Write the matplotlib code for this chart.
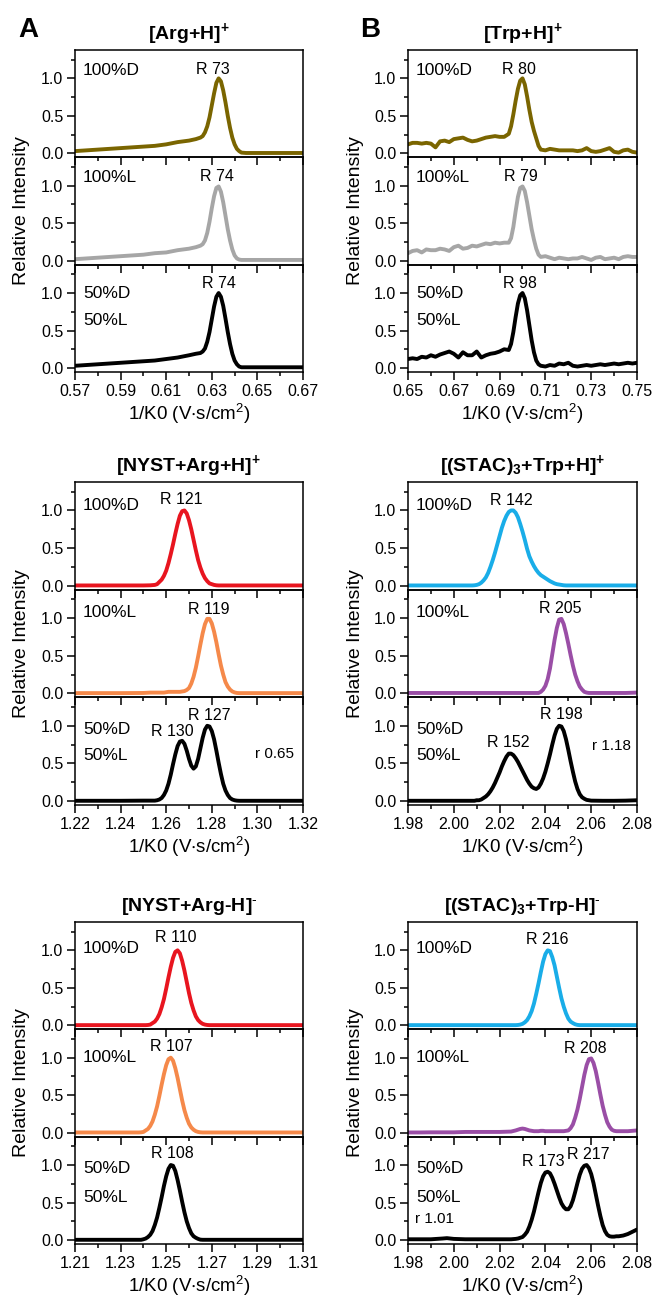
import matplotlib
matplotlib.use("Agg")
import matplotlib.pyplot as plt
from matplotlib.ticker import MultipleLocator, FixedLocator

plt.rcParams['font.family'] = ['Liberation Sans', 'DejaVu Sans']
plt.rcParams['mathtext.fontset'] = 'custom'
plt.rcParams['mathtext.rm'] = 'Liberation Sans'
plt.rcParams['mathtext.bf'] = 'Liberation Sans:bold'
plt.rcParams['mathtext.default'] = 'regular'

# ---------------- data ----------------
# [Arg+H]+
x_arg = [0.570, 0.575, 0.580, 0.585, 0.590, 0.595, 0.600, 0.605, 0.610, 0.615, 0.620, 0.623,
         0.625, 0.626, 0.627, 0.628, 0.629, 0.630, 0.631, 0.632, 0.633, 0.634, 0.635, 0.636,
         0.637, 0.638, 0.639, 0.640, 0.641, 0.642, 0.643, 0.645, 0.650, 0.655, 0.660, 0.665, 0.670]
arg_D = [0.03, 0.04, 0.05, 0.06, 0.07, 0.08, 0.09, 0.10, 0.12, 0.15, 0.17, 0.19,
         0.21, 0.23, 0.28, 0.36, 0.48, 0.64, 0.80, 0.94, 1.00, 0.96, 0.84, 0.68,
         0.50, 0.34, 0.21, 0.12, 0.06, 0.03, 0.01, 0.005, 0.005, 0.005, 0.005, 0.005, 0.005]
arg_L = [0.02, 0.03, 0.04, 0.05, 0.06, 0.07, 0.08, 0.10, 0.11, 0.14, 0.16, 0.18,
         0.20, 0.22, 0.27, 0.37, 0.52, 0.70, 0.86, 0.97, 0.99, 0.92, 0.78, 0.60,
         0.42, 0.27, 0.15, 0.07, 0.03, 0.015, 0.01, 0.01, 0.01, 0.01, 0.01, 0.01, 0.01]
arg_DL = [0.03, 0.04, 0.05, 0.06, 0.07, 0.08, 0.09, 0.10, 0.12, 0.14, 0.17, 0.19,
          0.20, 0.22, 0.26, 0.35, 0.48, 0.65, 0.82, 0.95, 1.00, 0.95, 0.83, 0.66,
          0.48, 0.32, 0.19, 0.10, 0.05, 0.02, 0.01, 0.01, 0.01, 0.01, 0.01, 0.01, 0.01]
ticks_arg = [0.57, 0.59, 0.61, 0.63, 0.65, 0.67]

# [Trp+H]+
x_trp = [0.650, 0.652, 0.654, 0.656, 0.658, 0.660, 0.662, 0.664, 0.666, 0.668, 0.670, 0.672,
         0.674, 0.676, 0.678, 0.680, 0.682, 0.684, 0.686, 0.688, 0.690, 0.692, 0.694,
         0.695, 0.696, 0.697, 0.698, 0.699, 0.700, 0.701, 0.702, 0.703, 0.704, 0.705, 0.706,
         0.707, 0.708,
         0.710, 0.712, 0.714, 0.716, 0.718, 0.720, 0.722, 0.724, 0.726, 0.728, 0.730, 0.732,
         0.734, 0.736, 0.738, 0.740, 0.742, 0.744, 0.746, 0.748, 0.750]
trp_D = [0.12, 0.14, 0.14, 0.13, 0.14, 0.13, 0.08, 0.16, 0.17, 0.15, 0.19, 0.20,
         0.21, 0.18, 0.16, 0.17, 0.19, 0.21, 0.22, 0.23, 0.22, 0.22, 0.26,
         0.36, 0.52, 0.70, 0.86, 0.97, 1.00, 0.92, 0.76, 0.58, 0.42, 0.30, 0.20, 0.10, 0.05,
         0.04, 0.06, 0.05, 0.04, 0.04, 0.04, 0.04, 0.03, 0.04, 0.07, 0.03, 0.02,
         0.03, 0.05, 0.07, 0.02, 0.01, 0.04, 0.05, 0.02, 0.01]
trp_L = [0.10, 0.13, 0.14, 0.11, 0.15, 0.14, 0.14, 0.16, 0.15, 0.13, 0.18, 0.20,
         0.16, 0.17, 0.20, 0.19, 0.21, 0.23, 0.22, 0.24, 0.23, 0.24, 0.24,
         0.30, 0.45, 0.66, 0.85, 0.97, 0.99, 0.93, 0.78, 0.60, 0.42, 0.28, 0.16, 0.08, 0.05,
         0.06, 0.04, 0.02, 0.04, 0.03, 0.02, 0.03, 0.03, 0.05, 0.03, 0.01, 0.04,
         0.05, 0.02, 0.03, 0.04, 0.02, 0.05, 0.06, 0.05, 0.05]
trp_DL = [0.12, 0.13, 0.12, 0.15, 0.14, 0.17, 0.15, 0.18, 0.20, 0.22, 0.19, 0.14,
          0.21, 0.17, 0.17, 0.22, 0.14, 0.17, 0.19, 0.20, 0.22, 0.25, 0.24,
          0.32, 0.48, 0.68, 0.86, 0.97, 1.00, 0.93, 0.77, 0.57, 0.37, 0.21, 0.10, 0.05, 0.03,
          0.02, 0.04, 0.03, 0.06, 0.05, 0.07, 0.03, 0.02, 0.03, 0.04, 0.03, 0.04,
          0.05, 0.04, 0.05, 0.06, 0.05, 0.06, 0.07, 0.06, 0.07]
ticks_trp = [0.65, 0.67, 0.69, 0.71, 0.73, 0.75]

# [NYST+Arg+H]+
x_nap = [1.220, 1.230, 1.240, 1.250, 1.253,
         1.255, 1.256, 1.257, 1.258, 1.259, 1.260, 1.261, 1.262, 1.263, 1.264, 1.265, 1.266,
         1.267, 1.268, 1.269, 1.270, 1.271, 1.272, 1.273, 1.274, 1.275, 1.276, 1.277, 1.278,
         1.279, 1.280, 1.281, 1.282, 1.283, 1.284, 1.285, 1.286, 1.287, 1.288, 1.289, 1.290,
         1.291, 1.292,
         1.295, 1.300, 1.310, 1.320]
nap_D = [0.003, 0.003, 0.003, 0.003, 0.005,
         0.01, 0.02, 0.05, 0.08, 0.13, 0.20, 0.30, 0.42, 0.55, 0.69, 0.82, 0.93,
         0.99, 1.00, 0.96, 0.87, 0.75, 0.61, 0.47, 0.34, 0.24, 0.16, 0.10, 0.06,
         0.03, 0.02, 0.01, 0.005, 0.003, 0.003, 0.003, 0.003, 0.003, 0.003, 0.003, 0.003,
         0.003, 0.003,
         0.003, 0.003, 0.003, 0.003]
nap_L = [0.003, 0.003, 0.003, 0.005, 0.01,
         0.01, 0.01, 0.01, 0.01, 0.01, 0.015, 0.02, 0.02, 0.02, 0.02, 0.02, 0.02,
         0.025, 0.03, 0.045, 0.07, 0.13, 0.22, 0.34, 0.49, 0.65, 0.80, 0.92, 0.99,
         0.99, 0.93, 0.82, 0.68, 0.52, 0.37, 0.25, 0.15, 0.09, 0.05, 0.025, 0.012,
         0.005, 0.003,
         0.003, 0.003, 0.003, 0.003]
nap_DL = [0.003, 0.003, 0.003, 0.005, 0.005,
          0.005, 0.01, 0.02, 0.04, 0.08, 0.14, 0.23, 0.35, 0.49, 0.62, 0.73, 0.79,
          0.80, 0.76, 0.67, 0.56, 0.47, 0.43, 0.46, 0.56, 0.70, 0.84, 0.95, 1.00,
          0.99, 0.93, 0.82, 0.67, 0.51, 0.36, 0.23, 0.14, 0.08, 0.04, 0.02, 0.01,
          0.005, 0.003,
          0.003, 0.003, 0.003, 0.003]
ticks_nap = [1.22, 1.24, 1.26, 1.28, 1.30, 1.32]

# [(STAC)3+Trp+H]+
x_stp = [1.980, 1.990, 2.000, 2.005,
         2.008, 2.009, 2.010, 2.011, 2.012, 2.013, 2.014, 2.015, 2.016, 2.017, 2.018, 2.019,
         2.020, 2.021, 2.022, 2.023, 2.024, 2.025, 2.026, 2.027, 2.028, 2.029, 2.030, 2.031,
         2.032, 2.033, 2.034, 2.035, 2.036, 2.037, 2.038, 2.039, 2.040, 2.041, 2.042, 2.043,
         2.044, 2.045, 2.046, 2.047, 2.048, 2.049, 2.050, 2.051, 2.052, 2.053, 2.054, 2.055,
         2.056, 2.057, 2.058, 2.059, 2.060,
         2.065, 2.070, 2.075, 2.080]
stp_D = [0.003, 0.003, 0.003, 0.003,
         0.003, 0.005, 0.01, 0.02, 0.04, 0.07, 0.11, 0.17, 0.25, 0.34, 0.44, 0.55,
         0.66, 0.77, 0.86, 0.93, 0.98, 1.00, 1.00, 0.97, 0.91, 0.82, 0.72, 0.61,
         0.49, 0.39, 0.32, 0.26, 0.21, 0.17, 0.14, 0.12, 0.10, 0.08, 0.06, 0.045,
         0.03, 0.02, 0.015, 0.01, 0.005, 0.003, 0.003, 0.003, 0.003, 0.003, 0.003, 0.003,
         0.003, 0.003, 0.003, 0.003, 0.003,
         0.003, 0.003, 0.003, 0.003]
stp_L = [0.005, 0.005, 0.005, 0.005,
         0.005, 0.005, 0.005, 0.005, 0.005, 0.005, 0.005, 0.005, 0.005, 0.005, 0.005, 0.005,
         0.005, 0.005, 0.005, 0.005, 0.005, 0.005, 0.005, 0.005, 0.005, 0.005, 0.005, 0.005,
         0.005, 0.005, 0.005, 0.005, 0.005, 0.005, 0.02, 0.05, 0.10, 0.19, 0.33, 0.52,
         0.71, 0.87, 0.98, 0.99, 0.92, 0.80, 0.66, 0.51, 0.37, 0.25, 0.16, 0.09,
         0.05, 0.02, 0.01, 0.005, 0.005,
         0.005, 0.005, 0.005, 0.01]
stp_DL = [0.003, 0.003, 0.003, 0.003,
          0.003, 0.003, 0.01, 0.01, 0.02, 0.04, 0.06, 0.09, 0.13, 0.18, 0.24, 0.31,
          0.38, 0.46, 0.53, 0.59, 0.63, 0.63, 0.61, 0.57, 0.52, 0.46, 0.40, 0.34,
          0.28, 0.23, 0.19, 0.17, 0.16, 0.18, 0.23, 0.30, 0.39, 0.50, 0.62, 0.75,
          0.87, 0.96, 1.00, 0.99, 0.93, 0.82, 0.68, 0.53, 0.39, 0.26, 0.16, 0.09,
          0.05, 0.03, 0.015, 0.01, 0.005,
          0.003, 0.003, 0.005, 0.01]
ticks_stp = [1.98, 2.00, 2.02, 2.04, 2.06, 2.08]

# [NYST+Arg-H]-
x_nam = [1.210, 1.220, 1.230, 1.235, 1.238,
         1.239, 1.240, 1.241, 1.242, 1.243, 1.244, 1.245, 1.246, 1.247, 1.248, 1.249, 1.250,
         1.251, 1.252, 1.253, 1.254, 1.255, 1.256, 1.257, 1.258, 1.259, 1.260, 1.261, 1.262,
         1.263, 1.264, 1.265, 1.266, 1.267, 1.268, 1.269, 1.270,
         1.275, 1.280, 1.290, 1.300, 1.310]
nam_D = [0.003, 0.003, 0.003, 0.003, 0.003,
         0.003, 0.003, 0.003, 0.005, 0.01, 0.03, 0.05, 0.09, 0.15, 0.24, 0.35, 0.49,
         0.64, 0.78, 0.90, 0.98, 1.00, 0.96, 0.86, 0.73, 0.58, 0.43, 0.30, 0.20,
         0.12, 0.07, 0.04, 0.02, 0.01, 0.005, 0.003, 0.003,
         0.003, 0.003, 0.003, 0.003, 0.003]
nam_L = [0.003, 0.003, 0.003, 0.003, 0.003,
         0.005, 0.01, 0.03, 0.05, 0.09, 0.15, 0.24, 0.35, 0.49, 0.64, 0.78, 0.90,
         0.98, 1.00, 0.96, 0.86, 0.73, 0.58, 0.43, 0.30, 0.20, 0.12, 0.07, 0.04,
         0.02, 0.01, 0.005, 0.003, 0.003, 0.003, 0.003, 0.003,
         0.003, 0.003, 0.003, 0.003, 0.003]
nam_DL = [0.003, 0.003, 0.003, 0.003, 0.003,
          0.003, 0.01, 0.02, 0.04, 0.07, 0.12, 0.20, 0.30, 0.43, 0.57, 0.72, 0.85,
          0.95, 1.00, 0.99, 0.92, 0.80, 0.66, 0.51, 0.37, 0.25, 0.16, 0.09, 0.05,
          0.03, 0.015, 0.005, 0.003, 0.003, 0.003, 0.003, 0.003,
          0.003, 0.003, 0.003, 0.003, 0.003]
ticks_nam = [1.21, 1.23, 1.25, 1.27, 1.29, 1.31]

# [(STAC)3+Trp-H]-
x_stm = [1.980, 1.985, 1.990, 1.995, 1.997, 2.000, 2.005, 2.010, 2.015, 2.020, 2.025, 2.027,
         2.028, 2.029, 2.030, 2.031, 2.032, 2.033, 2.034, 2.035, 2.036, 2.037, 2.038, 2.039,
         2.040, 2.041, 2.042, 2.043, 2.044, 2.045, 2.046, 2.047, 2.048, 2.049, 2.050, 2.051,
         2.052, 2.053, 2.054, 2.055, 2.056, 2.057, 2.058, 2.059, 2.060, 2.061, 2.062, 2.063,
         2.064, 2.065, 2.066, 2.067, 2.068, 2.069, 2.070, 2.071, 2.072,
         2.074, 2.076, 2.078, 2.080]
stm_D = [0.003, 0.003, 0.003, 0.003, 0.003, 0.003, 0.003, 0.003, 0.003, 0.003, 0.003, 0.003,
         0.005, 0.01, 0.02, 0.04, 0.07, 0.12, 0.19, 0.29, 0.42, 0.56, 0.71, 0.85,
         0.95, 1.00, 0.99, 0.91, 0.80, 0.65, 0.50, 0.36, 0.25, 0.16, 0.09, 0.05,
         0.03, 0.014, 0.006, 0.003, 0.003, 0.003, 0.003, 0.003, 0.003, 0.003, 0.003, 0.003,
         0.003, 0.003, 0.003, 0.003, 0.003, 0.003, 0.003, 0.003, 0.003,
         0.003, 0.003, 0.003, 0.003]
stm_L = [0.003, 0.003, 0.005, 0.005, 0.005, 0.005, 0.01, 0.01, 0.01, 0.01, 0.015, 0.03,
         0.04, 0.05, 0.055, 0.05, 0.04, 0.03, 0.025, 0.02, 0.02, 0.02, 0.025, 0.025,
         0.02, 0.02, 0.02, 0.02, 0.02, 0.02, 0.02, 0.02, 0.02, 0.025, 0.03, 0.06,
         0.11, 0.20, 0.31, 0.45, 0.61, 0.77, 0.90, 0.98, 0.99, 0.93, 0.82, 0.67,
         0.51, 0.36, 0.24, 0.14, 0.08, 0.04, 0.025, 0.02, 0.02,
         0.02, 0.02, 0.025, 0.03]
stm_DL = [0.01, 0.01, 0.01, 0.02, 0.025, 0.015, 0.01, 0.01, 0.01, 0.01, 0.01, 0.015,
          0.02, 0.03, 0.04, 0.07, 0.11, 0.18, 0.27, 0.38, 0.51, 0.64, 0.76, 0.85,
          0.90, 0.91, 0.89, 0.83, 0.75, 0.66, 0.57, 0.49, 0.44, 0.41, 0.41, 0.45,
          0.53, 0.64, 0.76, 0.87, 0.95, 0.99, 1.00, 0.96, 0.88, 0.76, 0.61, 0.46,
          0.32, 0.20, 0.12, 0.07, 0.05, 0.045, 0.045, 0.05, 0.05,
          0.06, 0.08, 0.11, 0.14]
ticks_stm = [1.98, 2.00, 2.02, 2.04, 2.06, 2.08]

# ---------------- colours ----------------
c_olive = '#7a6500'
c_gray = '#a6a6a6'
c_red = '#e8151f'
c_orange = '#f5894a'
c_cyan = '#19ade8'
c_purple = '#9a4ea6'
c_black = '#000000'

W, H = 655, 1301
fig = plt.figure(figsize=(W / 100, H / 100), dpi=100)

cols = {'A': (75, 303), 'B': (408, 637)}
rows = [(50, 372), (482, 805), (922, 1244)]


def add_ax(x0, x1, y0, y1):
    return fig.add_axes([x0 / W, 1 - y1 / H, (x1 - x0) / W, (y1 - y0) / H], facecolor='none')


def draw_group(col, row, x, xlim, xticks, curves, title, sample_y, peaks, extra=None):
    x0, x1 = cols[col]
    top, bot = rows[row]
    h = (bot - top) / 3
    axes = []
    for i, (y, color) in enumerate(curves):
        ax = add_ax(x0, x1, top + i * h, top + (i + 1) * h)
        ax.plot(x, y, color=color, lw=2.8, solid_joinstyle='round', solid_capstyle='round')
        ax.set_xlim(*xlim)
        ax.set_ylim(-0.053, 1.378)
        ax.xaxis.set_major_locator(FixedLocator(xticks))
        ax.xaxis.set_minor_locator(MultipleLocator(0.01))
        ax.yaxis.set_major_locator(MultipleLocator(0.5))
        ax.yaxis.set_minor_locator(MultipleLocator(0.25))
        ax.tick_params(which='both', direction='out', top=False, right=False, labelsize=11.5,
                       width=1.1, pad=3)
        ax.tick_params(which='major', length=5.5)
        ax.tick_params(which='minor', length=3)
        ax.yaxis.set_major_formatter(plt.FormatStrFormatter('%.1f'))
        ax.xaxis.set_major_formatter(plt.FormatStrFormatter('%.2f'))
        for s in ax.spines.values():
            s.set_linewidth(1.1)
        if i < 2:
            ax.tick_params(labelbottom=False)
        for px, py, txt in peaks[i]:
            ax.text(px, py, txt, ha='center', va='center', fontsize=11.5)
        axes.append(ax)
    names = [['100%D'], ['100%L'], ['50%D', '50%L']]
    for i, ax in enumerate(axes):
        for j, name in enumerate(names[i]):
            ax.text(0.035, sample_y[i][j], name, transform=ax.get_yaxis_transform(),
                    ha='left', va='center', fontsize=12.5)
    axes[0].set_title(title, fontsize=14, fontweight='bold', pad=8)
    axes[2].set_xlabel('1/K0 (V$\\cdot$s/cm$^2$)', fontsize=13.5, labelpad=2)
    fig.text((x0 - 53) / W, 1 - (top + bot) / 2 / H, 'Relative Intensity', rotation=90,
             ha='center', va='center', fontsize=14)
    if extra is not None:
        ex, ey, et = extra
        axes[2].text(ex, ey, et, ha='center', va='center', fontsize=11)
    return axes


draw_group('A', 0, x_arg, (0.57, 0.67), ticks_arg,
           [(arg_D, c_olive), (arg_L, c_gray), (arg_DL, c_black)],
           '[Arg+H]$^\\mathbf{+}$',
           [[1.11], [1.11], [1.0, 0.64]],
           [[(0.6306, 1.12, 'R 73')], [(0.6323, 1.12, 'R 74')], [(0.6331, 1.13, 'R 74')]])

draw_group('B', 0, x_trp, (0.65, 0.75), ticks_trp,
           [(trp_D, c_olive), (trp_L, c_gray), (trp_DL, c_black)],
           '[Trp+H]$^\\mathbf{+}$',
           [[1.11], [1.11], [1.0, 0.64]],
           [[(0.6985, 1.12, 'R 80')], [(0.6994, 1.12, 'R 79')], [(0.6990, 1.13, 'R 98')]])

draw_group('A', 1, x_nap, (1.22, 1.32), ticks_nap,
           [(nap_D, c_red), (nap_L, c_orange), (nap_DL, c_black)],
           '[NYST+Arg+H]$^\\mathbf{+}$',
           [[1.07], [1.07], [0.95, 0.6]],
           [[(1.2667, 1.14, 'R 121')], [(1.2787, 1.12, 'R 119')],
            [(1.2626, 0.93, 'R 130'), (1.2791, 1.14, 'R 127')]],
           extra=(1.3076, 0.62, 'r 0.65'))

draw_group('B', 1, x_stp, (1.98, 2.08), ticks_stp,
           [(stp_D, c_cyan), (stp_L, c_purple), (stp_DL, c_black)],
           '[(STAC)$_\\mathbf{3}$+Trp+H]$^\\mathbf{+}$',
           [[1.07], [1.07], [0.95, 0.6]],
           [[(2.0250, 1.13, 'R 142')], [(2.0464, 1.13, 'R 205')],
            [(2.0238, 0.78, 'R 152'), (2.0469, 1.15, 'R 198')]],
           extra=(2.0690, 0.73, 'r 1.18'))

draw_group('A', 2, x_nam, (1.21, 1.31), ticks_nam,
           [(nam_D, c_red), (nam_L, c_orange), (nam_DL, c_black)],
           '[NYST+Arg-H]$^{\\text{-}}$',
           [[1.03], [1.0], [0.95, 0.57]],
           [[(1.2541, 1.17, 'R 110')], [(1.2523, 1.15, 'R 107')], [(1.2526, 1.16, 'R 108')]])

draw_group('B', 2, x_stm, (1.98, 2.08), ticks_stm,
           [(stm_D, c_cyan), (stm_L, c_purple), (stm_DL, c_black)],
           '[(STAC)$_\\mathbf{3}$+Trp-H]$^{\\text{-}}$',
           [[1.03], [1.0], [0.95, 0.57]],
           [[(2.0409, 1.14, 'R 216')], [(2.0576, 1.12, 'R 208')],
            [(2.0390, 1.05, 'R 173'), (2.0588, 1.14, 'R 217')]],
           extra=(1.9917, 0.28, 'r 1.01'))

fig.text(28 / W, 1 - 30 / H, 'A', fontsize=20, fontweight='bold', ha='center', va='center')
fig.text(370 / W, 1 - 30 / H, 'B', fontsize=20, fontweight='bold', ha='center', va='center')

fig.savefig('out.png', dpi=100)
